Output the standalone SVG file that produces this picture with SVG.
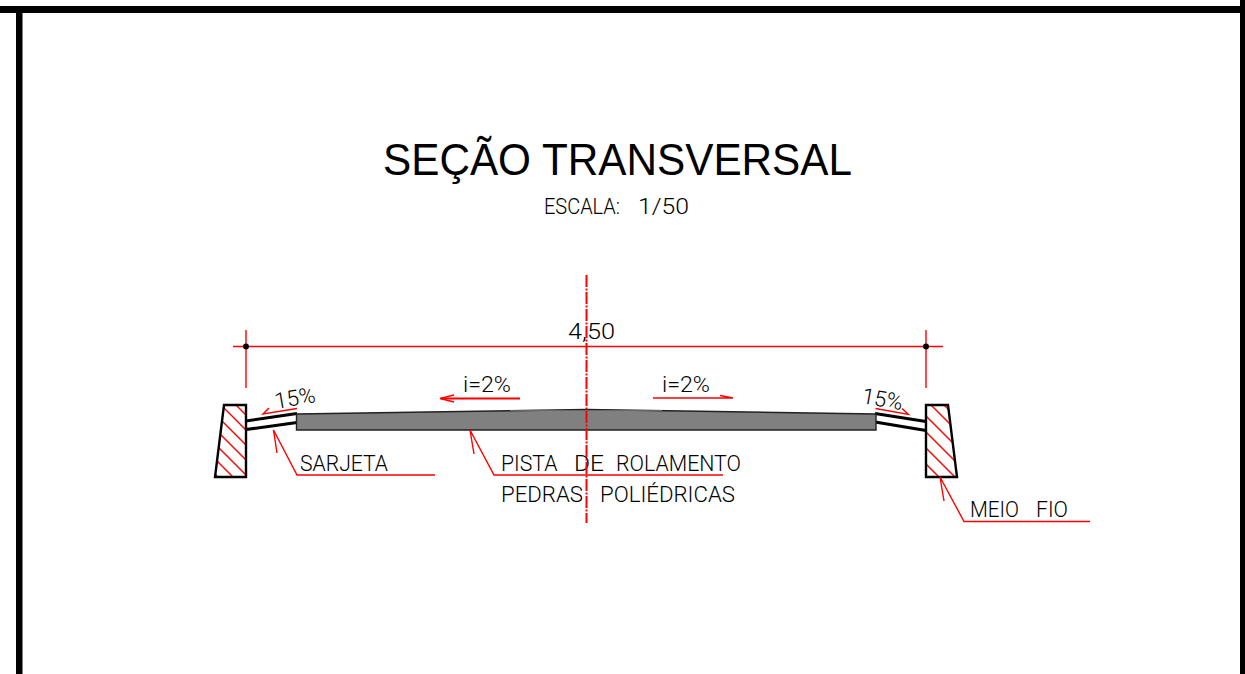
<svg xmlns="http://www.w3.org/2000/svg" width="1245" height="674" viewBox="0 0 1245 674">
<style>
.t{font-family:"Roboto","Liberation Sans",sans-serif;font-weight:300;font-size:22px;fill:#000}
.r{fill:none;stroke:#f00;stroke-width:1.4}
.k{fill:none;stroke:#000;stroke-width:3}
.c{fill:#fff}
.o{fill:none;stroke:#000;stroke-width:2.4}
</style>
<defs>
<clipPath id="cl"><polygon points="224,405 246,405 246,477 215,477"/></clipPath>
<clipPath id="cr"><polygon points="926,405 948,405 957,477 926,477"/></clipPath>
</defs>
<rect width="1245" height="674" fill="#fff"/>
<g id="frame" fill="#000">
<rect x="0" y="6" width="1245" height="7"/>
<rect x="16" y="6" width="6.5" height="668"/>
<rect x="1240" y="0" width="5" height="674"/>
</g>
<g id="title">
<text x="383" y="175" font-family="Liberation Sans, Arial, sans-serif" font-size="44.5" fill="#000" textLength="469" lengthAdjust="spacingAndGlyphs">SEÇÃO TRANSVERSAL</text>
<text class="t" y="214"><tspan x="544" textLength="76" lengthAdjust="spacingAndGlyphs">ESCALA:</tspan> <tspan x="638" textLength="51" lengthAdjust="spacingAndGlyphs">1/50</tspan></text>
</g>
<g id="curb-left">
<polygon class="c" points="224,405 246,405 246,477 215,477"/>
<g clip-path="url(#cl)"><path class="r" d="M210,379L250,419M210,394L250,434M210,409L250,449M210,424L250,464M210,439L250,479M210,454L250,494M210,469L250,509"/></g>
<polygon class="o" points="224,405 246,405 246,477 215,477"/>
</g>
<g id="curb-right">
<polygon class="c" points="926,405 948,405 957,477 926,477"/>
<g clip-path="url(#cr)"><path class="r" d="M920,381L960,421M920,394L960,434M920,410L960,450M920,426L960,466M920,442L960,482M920,458L960,498"/></g>
<polygon class="o" points="926,405 948,405 957,477 926,477"/>
</g>
<g id="gutter-left">
<path class="k" d="M246,421L297,413.5M246,429.5L297,422.5"/>
</g>
<g id="gutter-right">
<path class="k" d="M875,413.5L926,421.5M875,422L926,430.5"/>
</g>
<g id="road">
<polygon points="296.5,414 586,409.5 876,414 876,430 296.5,430" fill="#808080" stroke="#222" stroke-width="1.4"/>
<path d="M510,410.5H662" stroke="#666" stroke-width="1"/>
</g>
<g id="connectors">
<path class="r" d="M233,346.5H943M246,330V388M926,330V388"/>
<circle cx="246" cy="346.5" r="3" fill="#000"/>
<circle cx="926" cy="346.5" r="3" fill="#000"/>
<path class="r" d="M441,398.5H520" style="stroke-width:2"/>
<path class="r" d="M440,398.5L454,395M440,398.5L454,402"/>
<path class="r" d="M653,398H733L720,395.5"/>
<path class="r" d="M297,408.5L263,414L269,408"/>
<path class="r" d="M875.5,408.5L908.5,414.5L902,408.5"/>
<path class="r" d="M277,453L273.5,430L297,475H435"/>
<path class="r" d="M474,454L470,430L494,475H723"/>
<path class="r" d="M944,501L940,477L964,521.5H1090"/>
</g>
<g id="labels">
<text class="t" x="568" y="339" textLength="47" lengthAdjust="spacingAndGlyphs">4,50</text>
<text class="t" x="463" y="392" textLength="48" lengthAdjust="spacingAndGlyphs">i=2%</text>
<text class="t" x="662" y="392" textLength="48" lengthAdjust="spacingAndGlyphs">i=2%</text>
<text class="t" transform="translate(276,409) rotate(-10)" textLength="41" lengthAdjust="spacingAndGlyphs">15%</text>
<text class="t" transform="translate(861,403) rotate(10)" textLength="41" lengthAdjust="spacingAndGlyphs">15%</text>
<text class="t" x="300" y="471" textLength="88" lengthAdjust="spacingAndGlyphs">SARJETA</text>
<text class="t" y="471"><tspan x="501" textLength="56.5" lengthAdjust="spacingAndGlyphs">PISTA</tspan> <tspan x="574" textLength="30" lengthAdjust="spacingAndGlyphs">DE</tspan> <tspan x="616" textLength="125" lengthAdjust="spacingAndGlyphs">ROLAMENTO</tspan></text>
<text class="t" y="502"><tspan x="501" textLength="82" lengthAdjust="spacingAndGlyphs">PEDRAS</tspan> <tspan x="600" textLength="135" lengthAdjust="spacingAndGlyphs">POLIÉDRICAS</tspan></text>
<text class="t" y="517"><tspan x="970" textLength="49" lengthAdjust="spacingAndGlyphs">MEIO</tspan> <tspan x="1036" textLength="32" lengthAdjust="spacingAndGlyphs">FIO</tspan></text>
</g>
<g id="axis">
<path d="M586.5,275V523" fill="none" stroke="#f00" stroke-width="2" stroke-dasharray="12 1.5 2 1.5"/>
</g>
</svg>
